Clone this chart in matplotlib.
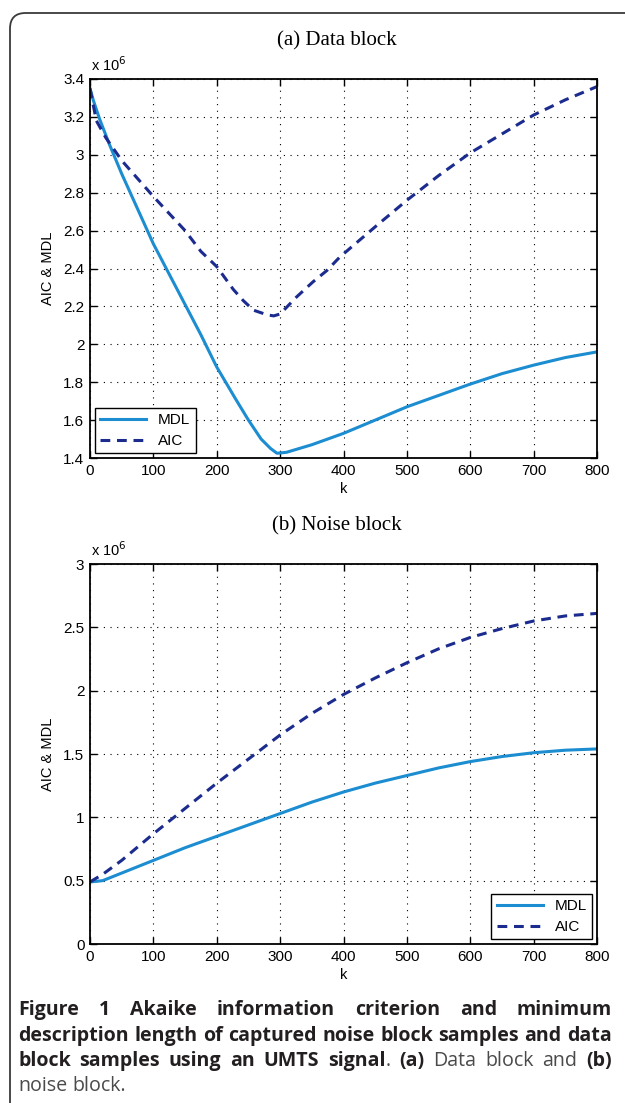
import matplotlib
matplotlib.use("Agg")
import matplotlib.pyplot as plt
import matplotlib.patches as patches
from matplotlib.ticker import FuncFormatter

# data, values in units of 1e6
k_data_mdl = [0, 5, 15, 30, 50, 100, 150, 175, 200, 230, 250, 270, 285, 295, 310, 350, 400, 450, 500, 550, 600, 650, 700, 750, 800]
mdl_data = [3.35, 3.29, 3.19, 3.06, 2.90, 2.53, 2.21, 2.05, 1.88, 1.71, 1.60, 1.50, 1.45, 1.425, 1.43, 1.47, 1.53, 1.60, 1.67, 1.73, 1.79, 1.845, 1.89, 1.93, 1.96]
k_data_aic = [0, 10, 25, 50, 100, 150, 175, 200, 226, 242, 258, 280, 290, 300, 326, 352, 374, 394, 450, 500, 550, 600, 650, 700, 750, 800]
aic_data = [3.35, 3.18, 3.09, 2.97, 2.78, 2.60, 2.49, 2.41, 2.29, 2.23, 2.18, 2.155, 2.15, 2.16, 2.25, 2.33, 2.39, 2.46, 2.62, 2.76, 2.89, 3.01, 3.11, 3.21, 3.29, 3.36]

k_noise = [0, 20, 50, 100, 150, 200, 250, 300, 350, 400, 450, 500, 550, 600, 650, 700, 750, 800]
mdl_noise = [0.49, 0.50, 0.56, 0.66, 0.76, 0.85, 0.94, 1.03, 1.12, 1.20, 1.27, 1.33, 1.39, 1.44, 1.48, 1.51, 1.53, 1.54]
aic_noise = [0.49, 0.55, 0.66, 0.87, 1.07, 1.27, 1.46, 1.65, 1.82, 1.97, 2.10, 2.22, 2.33, 2.42, 2.49, 2.55, 2.59, 2.61]

x_ticks = list(range(0, 801, 100))
y_ticks_data = [1.4, 1.6, 1.8, 2.0, 2.2, 2.4, 2.6, 2.8, 3.0, 3.2, 3.4]
y_ticks_noise = [0, 0.5, 1, 1.5, 2, 2.5, 3]

MDL_COLOR = "#1b8dd0"
AIC_COLOR = "#1c2c8e"
W, H = 625, 1103

fig = plt.figure(figsize=(W / 100, H / 100), dpi=100)
plt.rcParams["font.family"] = "Liberation Sans"


def setup_axes(ax, yticks, title, legend_loc):
    ax.set_xlim(0, 800)
    ax.set_ylim(yticks[0], yticks[-1])
    ax.set_xticks(x_ticks)
    ax.set_yticks(yticks)
    ax.yaxis.set_major_formatter(FuncFormatter(lambda v, p: f"{v:g}"))
    ax.tick_params(direction="in", length=5, width=1, top=True, right=True,
                   labelsize=11, pad=4, colors="black")
    ax.grid(True, color="black", linestyle=(0, (1, 5)), linewidth=0.8)
    for s in ax.spines.values():
        s.set_linewidth(1.3)
    ax.set_xlabel("k", fontsize=10.5, labelpad=3)
    ax.set_ylabel("AIC & MDL", fontsize=10.5, labelpad=6)
    ax.set_title(title, fontsize=15, family="Liberation Serif", pad=24, x=0.487)
    ax.text(0.002, 1.012, r"x 10$^{6}$", transform=ax.transAxes, fontsize=10.5,
            ha="left", va="bottom")
    leg = ax.legend(loc=legend_loc, fontsize=11, fancybox=False,
                    edgecolor="black", framealpha=1, handlelength=3.0,
                    borderaxespad=0.3, borderpad=0.35, labelspacing=0.45)
    leg.get_frame().set_linewidth(1.0)


ax1 = fig.add_axes([90 / W, 1 - 458 / H, 507 / W, 379 / H])
ax1.plot(k_data_mdl, mdl_data, color=MDL_COLOR, lw=2.2, label="MDL")
ax1.plot(k_data_aic, aic_data, color=AIC_COLOR, lw=2.2, ls=(0, (3.2, 2.2)), label="AIC")
setup_axes(ax1, y_ticks_data, "(a) Data block", "lower left")

ax2 = fig.add_axes([90 / W, 1 - 944 / H, 507 / W, 380 / H])
ax2.plot(k_noise, mdl_noise, color=MDL_COLOR, lw=2.2, label="MDL")
ax2.plot(k_noise, aic_noise, color=AIC_COLOR, lw=2.2, ls=(0, (3.2, 2.2)), label="AIC")
setup_axes(ax2, y_ticks_noise, "(b) Noise block", "lower right")

# rounded outer frame
frame = patches.FancyBboxPatch((10 / W, -20 / H), 700 / W, (H - 13 + 20) / H,
                               boxstyle="round,pad=0,rounding_size=0.025",
                               transform=fig.transFigure, fill=False,
                               edgecolor="#3a3a3a", linewidth=1.3,
                               mutation_aspect=W / H)
fig.patches.append(frame)

# caption
renderer = fig.canvas.get_renderer()
CAP_SIZE = 14.1
BOLD_C = "#231f20"
REG_C = "#4a4a4a"


def caption_line(words, y_px, justify=True, x0=18, x1=612):
    groups = []
    for word in words:
        pieces = []
        for txt, bold in word:
            t = fig.text(0, 1 - y_px / H, txt, fontsize=CAP_SIZE,
                         family="Open Sans", va="baseline",
                         fontweight="bold" if bold else "normal",
                         color=BOLD_C if bold else REG_C)
            pieces.append(t)
        groups.append(pieces)
    widths = [[p.get_window_extent(renderer).width for p in g] for g in groups]
    total = sum(sum(w) for w in widths)
    gap = (x1 - x0 - total) / (len(groups) - 1) if justify else 5.0
    x = x0
    for g, ws in zip(groups, widths):
        for p, w in zip(g, ws):
            p.set_x(x / W)
            x += w
        x += gap


def bold_words(s):
    return [[(w, True)] for w in s.split()]


def reg_words(s):
    return [[(w, False)] for w in s.split()]


caption_line(bold_words("Figure 1 Akaike information criterion and minimum"), 1015)
caption_line(bold_words("description length of captured noise block samples and data"), 1041)
caption_line(bold_words("block samples using an UMTS") + [[("signal", True), (".", False)]]
             + [[("(a)", True)]] + reg_words("Data block and") + [[("(b)", True)]], 1066)
caption_line(reg_words("noise block."), 1091, justify=False)

fig.savefig("out.png", dpi=100)
